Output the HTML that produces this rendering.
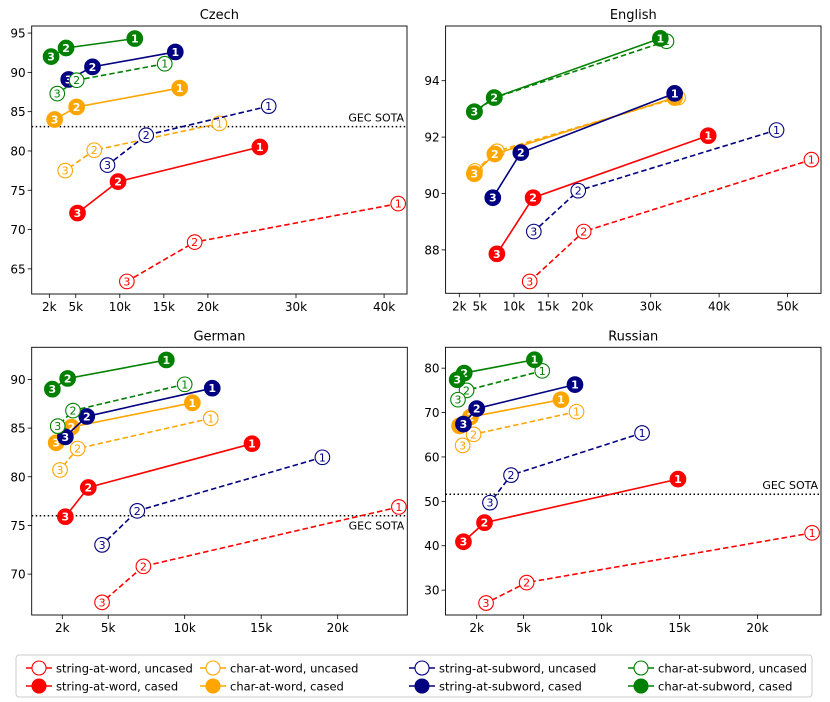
<!DOCTYPE html>
<html><head><meta charset="utf-8">
<style>
html,body{margin:0;padding:0;background:#fff;}
svg{display:block;font-family:"DejaVu Sans","Liberation Sans",sans-serif;}
</style></head>
<body>
<svg id="chart" width="830" height="702" viewBox="0 0 830 702" xmlns="http://www.w3.org/2000/svg"></svg>
<script>
// Series order: string-at-word uncased, string-at-word cased, char-at-word uncased, char-at-word cased,
// string-at-subword uncased, string-at-subword cased, char-at-subword uncased, char-at-subword cased
// each series: points labelled 1,2,3 (x in thousands)
const seriesNames = ["string-at-word, uncased","string-at-word, cased","char-at-word, uncased","char-at-word, cased","string-at-subword, uncased","string-at-subword, cased","char-at-subword, uncased","char-at-subword, cased"];
const seriesColors = ["#ff0000","#ff0000","#ffa500","#ffa500","#000080","#000080","#008000","#008000"];
const seriesFilled = [false,true,false,true,false,true,false,true];
const pointLabels = ["1","2","3"];

const czechX = [[41.6,18.5,10.8],[25.9,9.8,5.2],[21.3,7.1,3.8],[16.8,5.1,2.6],[26.9,13.0,8.6],[16.3,6.9,4.2],[15.1,5.1,2.9],[11.7,3.9,2.2]];
const czechY = [[73.3,68.4,63.4],[80.5,76.1,72.1],[83.5,80.1,77.5],[88.0,85.6,84.0],[85.7,82.0,78.2],[92.6,90.7,89.1],[91.1,89.0,87.3],[94.3,93.1,92.0]];
const englishX = [[53.5,20.2,12.3],[38.4,12.8,7.5],[34.0,7.5,4.3],[33.5,7.2,4.2],[48.4,19.4,12.9],[33.5,11.0,6.9],[32.3,7.2,4.3],[31.4,7.1,4.2]];
const englishY = [[91.2,88.65,86.88],[92.05,89.85,87.86],[93.4,91.5,90.8],[93.4,91.4,90.7],[92.25,90.1,88.65],[93.55,91.45,89.85],[95.4,93.4,92.9],[95.5,93.4,92.9]];
const germanX = [[24.0,7.3,4.6],[14.4,3.7,2.2],[11.7,3.0,1.85],[10.5,2.6,1.6],[19.0,6.9,4.6],[11.8,3.6,2.2],[10.0,2.7,1.7],[8.8,2.35,1.35]];
const germanY = [[76.9,70.8,67.1],[83.4,78.9,75.9],[86.0,82.9,80.7],[87.6,85.1,83.5],[82.0,76.5,73.0],[89.1,86.2,84.1],[89.5,86.8,85.2],[92.0,90.1,89.0]];
const russianX = [[23.5,5.2,2.6],[14.9,2.5,1.15],[8.4,1.8,1.1],[7.4,1.6,0.9],[12.6,4.2,2.85],[8.3,2.0,1.15],[6.2,1.35,0.8],[5.7,1.2,0.75]];
const russianY = [[42.9,31.7,27.1],[55.0,45.2,40.9],[70.2,65.1,62.6],[72.9,69.0,67.0],[65.4,55.9,49.7],[76.3,70.9,67.4],[79.4,75.0,72.9],[81.9,78.9,77.4]];

const czechXTicks = [2,5,10,15,20,30,40];
const englishXTicks = [2,5,10,15,20,30,40,50];
const germanXTicks = [2,5,10,15,20];
const russianXTicks = [2,5,10,15,20];
const czechYTicks = [65,70,75,80,85,90,95];
const englishYTicks = [88,90,92,94];
const germanYTicks = [70,75,80,85,90];
const russianYTicks = [30,40,50,60,70,80];
const sotaValues = [83.1, null, 76.0, 51.6];

const NS="http://www.w3.org/2000/svg";
const svg=document.getElementById('chart');
function mk(tag,attrs,parent){const e=document.createElementNS(NS,tag);for(const k in attrs)e.setAttribute(k,attrs[k]);(parent||svg).appendChild(e);return e;}

const panels=[
 {title:"Czech",name:"czech",xs:czechX,ys:czechY,xt:czechXTicks,yt:czechYTicks,sota:sotaValues[0],sotaAbove:true,box:[31.7,26,407,294],xd:[0,42.6],yd:[61.8,95.9]},
 {title:"English",name:"english",xs:englishX,ys:englishY,xt:englishXTicks,yt:englishYTicks,sota:sotaValues[1],sotaAbove:true,box:[445.6,26,821,293.3],xd:[0,54.9],yd:[86.46,95.94]},
 {title:"German",name:"german",xs:germanX,ys:germanY,xt:germanXTicks,yt:germanYTicks,sota:sotaValues[2],sotaAbove:false,box:[31.7,347.3,407.3,615],xd:[0,24.55],yd:[65.8,93.3]},
 {title:"Russian",name:"russian",xs:russianX,ys:russianY,xt:russianXTicks,yt:russianYTicks,sota:sotaValues[3],sotaAbove:true,box:[445.5,347.3,821,615],xd:[0,24.07],yd:[24.4,84.7]}
];

panels.forEach(p=>{
  const [x0,y0,x1,y1]=p.box;
  const g=mk('g',{});
  
  
  const sx=v=>x0+(v-p.xd[0])/(p.xd[1]-p.xd[0])*(x1-x0);
  const sy=v=>y1-(v-p.yd[0])/(p.yd[1]-p.yd[0])*(y1-y0);
  const t=mk('text',{x:(x0+x1)/2,y:y0-7,'text-anchor':'middle','font-size':'13'},g);
  t.textContent=p.title;
  
  
  p.xt.forEach(v=>{
    const X=sx(v);
    mk('line',{x1:X,x2:X,y1:y1,y2:y1+4,stroke:'#000','stroke-width':0.8},g);
    const l=mk('text',{x:X,y:y1+17,'text-anchor':'middle','font-size':'12'},g);
    l.textContent=v+'k';
    
    
  });
  p.yt.forEach(v=>{
    const Y=sy(v);
    mk('line',{x1:x0-4,x2:x0,y1:Y,y2:Y,stroke:'#000','stroke-width':0.8},g);
    const l=mk('text',{x:x0-6,y:Y+4.5,'text-anchor':'end','font-size':'12'},g);
    l.textContent=v;
    
    
  });
  if(p.sota!==null){
    const Y=sy(p.sota);
    const ln=mk('line',{x1:x0,x2:x1,y1:Y,y2:Y,stroke:'#000','stroke-width':1.5,'stroke-dasharray':'1.5,2.5'},g);
    
    
    const l=mk('text',{x:x1-3,y:p.sotaAbove?Y-5:Y+14,'text-anchor':'end','font-size':'11'},g);
    l.textContent='GEC SOTA';
    
    
  }
  p.xs.forEach((xs,si)=>{
    const c=seriesColors[si],f=seriesFilled[si];
    const sg=mk('g',{},g);
    
    
    const pts=xs.map((v,i)=>sx(v)+','+sy(p.ys[si][i])).join(' ');
    mk('polyline',{points:pts,fill:'none',stroke:c,'stroke-width':1.6,'stroke-dasharray':f?'none':'5.5,3'},sg);
    xs.forEach((v,i)=>{
      const X=sx(v),Y=sy(p.ys[si][i]);
      const m=mk('circle',{cx:X,cy:Y,r:f?7.8:7.3,fill:f?c:'#fff',stroke:c,'stroke-width':1.1},sg);
      
      
      const tx=mk('text',{x:X,y:Y+4,'text-anchor':'middle','font-size':'11',fill:f?'#fff':c,'font-weight':f?'bold':'normal'},sg);
      tx.textContent=pointLabels[i];
    });
  });
  const fr=mk('rect',{x:x0,y:y0,width:x1-x0,height:y1-y0,fill:'none',stroke:'#000','stroke-width':0.9},g);
  
  
});

// legend
const lg=mk('g',{});


mk('rect',{x:16,y:655,width:796,height:42,rx:3,fill:'#fff',stroke:'#ccc','stroke-width':1},lg);
const colX=[39,213,422,641];
seriesNames.forEach((n,i)=>{
  const col=Math.floor(i/2),row=i%2;
  const cx=colX[col],cy=row?686:668;
  const e=mk('g',{},lg);
  
  
  mk('line',{x1:cx-13,x2:cx+13,y1:cy,y2:cy,stroke:seriesColors[i],'stroke-width':1.6},e);
  mk('circle',{cx:cx,cy:cy,r:7,fill:seriesFilled[i]?seriesColors[i]:'#fff',stroke:seriesColors[i],'stroke-width':1.1},e);
  const t=mk('text',{x:cx+17,y:cy+4.5,'font-size':'11.5'},e);
  t.textContent=n;
});
</script>
</body></html>
